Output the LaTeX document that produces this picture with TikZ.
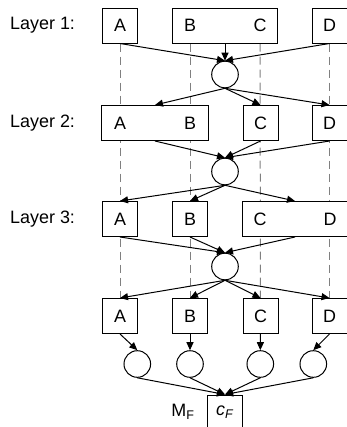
\documentclass[tikz,border=0pt]{standalone}
\usepackage{fontspec}
\setmainfont{Liberation Sans}
\usetikzlibrary{arrows.meta,backgrounds}

\tikzset{
  cell/.style={draw, fill=white, minimum width=35bp, minimum height=35bp, inner sep=0pt, line width=1bp},
  ring/.style={draw, circle, minimum size=26.6bp, inner sep=0pt, line width=1bp},
  flow/.style={-{Triangle[length=8bp,width=7bp]}, line width=1bp},
  guide/.style={gray, dash pattern=on 8bp off 5bp, line width=1bp},
}

\begin{document}
\begin{tikzpicture}[x=1bp, y=-1bp, font=\fontsize{18}{21}\selectfont]
        \useasboundingbox (0,0) rectangle (347,427);
        % Layer labels
        \foreach \y/\n in {25.5/1, 123/2, 219/3} {
            \node[anchor=west, inner sep=0pt] (lab\n) at (10,\y) {Layer \n:};
        }
        % Layer 1
        \node[cell] (a1) at (120,25.5) {A};
        \node[cell, minimum width=105bp] (bc1) at (225,25.5) {};
        \node (b1) at (190,25.5) {B};
        \node (c1) at (260,25.5) {C};
        \node[cell] (d1) at (329.5,25.5) {D};
        % Layer 2
        \node[cell, minimum width=106.5bp] (ab2) at (155,123) {};
        \node (a2) at (120,123) {A};
        \node (b2) at (190,123) {B};
        \node[cell] (c2) at (260.5,123) {C};
        \node[cell] (d2) at (329.5,123) {D};
        % Layer 3
        \node[cell] (a3) at (120,219) {A};
        \node[cell] (b3) at (190,219) {B};
        \node[cell, minimum width=105bp] (cd3) at (295,219) {};
        \node (c3) at (260,219) {C};
        \node (d3) at (330,219) {D};
        % Layer 4
        \foreach \x/\t/\l in {120/a/A, 190/b/B, 260.5/c/C, 329.5/d/D} {
            \node[cell] (\t4) at (\x,316) {\l};
        }
        % Junctions
        \node[ring] (j1) at (225,74.5) {};
        \node[ring] (j2) at (225,171.5) {};
        \node[ring] (j3) at (225,266.5) {};
        \foreach \x/\i in {137.3/1, 190/2, 260.3/3, 313.3/4} {
            \node[ring] (s\i) at (\x,364) {};
        }
        % Final cell
        \node[cell] (f) at (225,412.5) {\textit{c}\textsubscript{\textit{F}}};
        \node (mf) at (183,412) {M\textsubscript{F}};
        % Dashed guides
        \begin{scope}[on background layer]
            \draw[guide] (a1.south) -- (a4.north);
            \draw[guide] (b1 |- bc1.south) -- (b4.north);
            \draw[guide] (c1 |- bc1.south) -- (c4.north);
            \draw[guide] (d1.south) -- (d4.north);
        \end{scope}
        % Arrows
        \foreach \n in {a1, bc1, d1} {
            \draw[flow] (\n.south) -- (j1.north);
        }
        \foreach \n in {ab2, c2, d2} {
            \draw[flow] (j1.south) -- (\n.north);
            \draw[flow] (\n.south) -- (j2.north);
        }
        \foreach \n in {a3, b3, cd3} {
            \draw[flow] (j2.south) -- (\n.north);
            \draw[flow] (\n.south) -- (j3.north);
        }
        \foreach \n/\i in {a4/1, b4/2, c4/3, d4/4} {
            \draw[flow] (j3.south) -- (\n.north);
            \draw[flow] (\n.south) -- (s\i.north);
            \draw[flow] (s\i.south) -- (f.north);
        }
    \end{tikzpicture}
\end{document}
